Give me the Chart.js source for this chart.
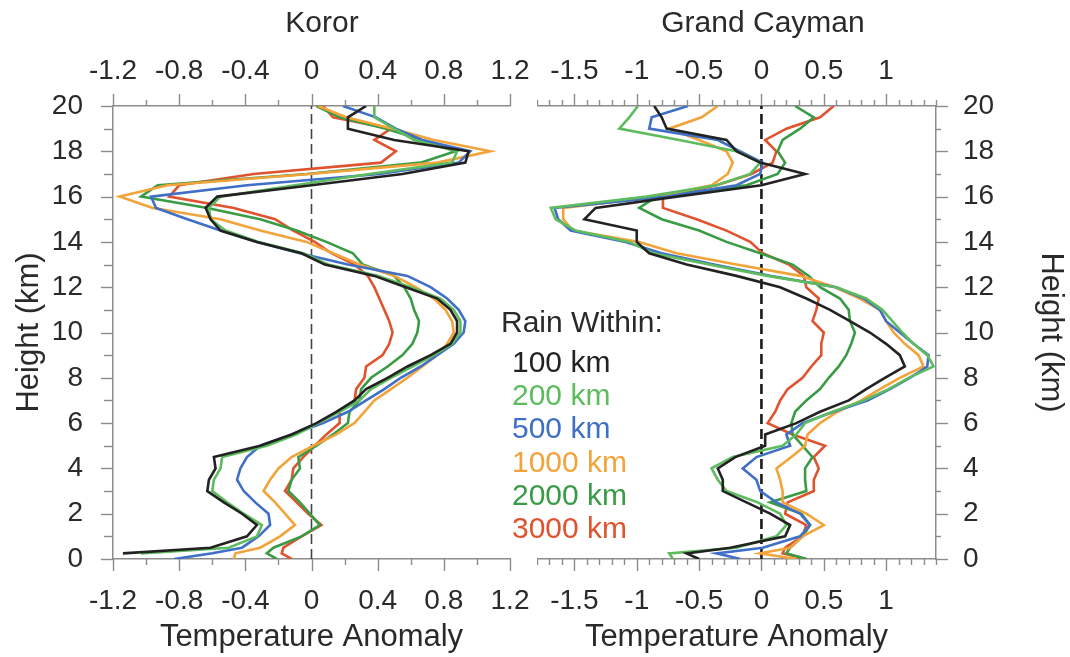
<!DOCTYPE html>
<html>
<head>
<meta charset="utf-8">
<title>Temperature anomaly profiles</title>
<script src="https://cdn.jsdelivr.net/npm/chart.js@4.4.0/dist/chart.umd.min.js"></script>
<style>
  body { margin: 0; background: #fff; }
  #wrap { position: relative; width: 1070px; height: 657px; overflow: hidden;
          font-family: "Liberation Sans", Arial, Helvetica, sans-serif; color: #2a2a2a; }
  canvas { position: absolute; top: 0; }
  #kororChart { left: 0; }
  #caymanChart { left: 537px; }
  .txt { position: absolute; white-space: nowrap; line-height: 1; }
  .panel-title { font-size: 30px; transform: translateX(-50%); top: 7px; }
  .leg { font-size: 30px; }
</style>
</head>
<body>
<div id="wrap">
  <canvas id="kororChart" width="537" height="657"></canvas>
  <canvas id="caymanChart" width="533" height="657"></canvas>
  <div class="txt panel-title" style="left:322px">Koror</div>
  <div class="txt panel-title" style="left:763px">Grand Cayman</div>
  <div id="legend"></div>
</div>
<script>
// heights (km) shared by every profile
const heights = [0, 0.25, 0.5, 1, 1.5, 2, 2.5, 3, 3.5, 4, 4.5, 5, 5.5, 6, 6.5, 7, 7.5, 8, 8.5, 9, 9.5,
  10, 10.5, 11, 11.5, 12, 12.5, 13, 13.5, 14, 14.5, 15, 15.5, 16, 16.5, 17, 17.5, 18, 18.5, 19, 19.5, 20];

const seriesNames = ['100 km', '200 km', '500 km', '1000 km', '2000 km', '3000 km'];

// Koror temperature anomaly, one value per height
const koror100 = [null, -1.14, -0.61, -0.39, -0.33, -0.42, -0.53, -0.63, -0.62, -0.58, -0.59, -0.31, -0.12, 0.03,
  0.15, 0.26, 0.33, 0.46, 0.58, 0.72, 0.84, 0.88, 0.88, 0.84, 0.76, 0.57, 0.38, 0.08, -0.06, -0.33, -0.55, -0.61,
  -0.64, -0.57, 0.00, 0.55, 0.93, 0.95, 0.50, 0.22, 0.22, 0.33];
const koror200 = [null, -1.03, -0.50, -0.33, -0.30, -0.41, -0.51, -0.60, -0.59, -0.55, -0.54, -0.27, -0.09, 0.04,
  0.17, 0.29, 0.36, 0.48, 0.61, 0.74, 0.85, 0.90, 0.90, 0.86, 0.78, 0.60, 0.40, 0.10, -0.05, -0.32, -0.52, -0.61,
  -0.62, -0.55, -0.10, 0.35, 0.85, 0.88, 0.62, 0.50, 0.38, 0.38];
const koror500 = [-0.83, -0.60, -0.42, -0.32, -0.25, -0.26, -0.34, -0.41, -0.45, -0.43, -0.39, -0.31, -0.12, 0.07,
  0.22, 0.33, 0.44, 0.54, 0.66, 0.76, 0.86, 0.92, 0.93, 0.89, 0.82, 0.72, 0.58, 0.22, -0.07, -0.33, -0.55, -0.75,
  -0.94, -0.97, -0.39, 0.41, 0.89, 0.96, 0.67, 0.51, 0.39, 0.19];
const koror1000 = [-0.47, -0.46, -0.31, -0.19, -0.10, -0.16, -0.22, -0.29, -0.25, -0.20, -0.12, 0.01, 0.15, 0.26,
  0.32, 0.38, 0.48, 0.58, 0.67, 0.76, 0.82, 0.86, 0.85, 0.81, 0.74, 0.63, 0.50, 0.29, 0.13, -0.03, -0.31, -0.55,
  -0.96, -1.16, -0.87, -0.01, 0.76, 1.08, 0.74, 0.49, 0.21, 0.04];
const koror2000 = [-0.21, -0.27, -0.23, -0.06, 0.05, -0.01, -0.07, -0.14, -0.12, -0.07, -0.08, 0.03, 0.13, 0.22,
  0.23, 0.29, 0.30, 0.36, 0.46, 0.55, 0.61, 0.64, 0.65, 0.62, 0.60, 0.56, 0.50, 0.31, 0.25, 0.09, -0.09, -0.31,
  -0.63, -1.03, -0.93, -0.03, 0.66, 0.87, 0.67, 0.45, 0.17, 0.03];
const koror3000 = [-0.12, -0.18, -0.17, -0.06, 0.06, -0.02, -0.09, -0.16, -0.12, -0.11, -0.05, 0.02, 0.09, 0.17,
  0.17, 0.26, 0.27, 0.32, 0.33, 0.43, 0.47, 0.49, 0.47, 0.44, 0.41, 0.38, 0.34, 0.26, 0.12, 0.02, -0.11, -0.22,
  -0.47, -0.86, -0.80, -0.35, 0.42, 0.51, 0.38, 0.48, 0.13, 0.07];

// Grand Cayman temperature anomaly
const cayman100 = [-0.50, -0.60, -0.25, 0.19, 0.23, 0.07, -0.12, -0.31, -0.31, -0.35, -0.21, 0.03, 0.03, 0.28,
  0.47, 0.70, 0.84, 0.99, 1.15, 1.11, 1.00, 0.87, 0.71, 0.55, 0.36, 0.15, -0.20, -0.60, -0.90, -1.00, -1.00, -1.42,
  -1.33, -0.68, 0.00, 0.35, -0.01, -0.20, -0.28, -0.76, -0.80, -0.86];
const cayman200 = [-0.71, -0.74, -0.20, 0.12, 0.20, 0.15, -0.03, -0.28, -0.35, -0.40, -0.23, 0.17, 0.28, 0.35,
  0.57, 0.82, 1.02, 1.18, 1.38, 1.33, 1.22, 1.13, 1.05, 0.97, 0.84, 0.60, 0.05, -0.42, -0.87, -1.06, -1.49, -1.65,
  -1.69, -0.92, -0.36, -0.09, -0.01, -0.20, -0.66, -1.14, -1.06, -0.99];
const cayman500 = [-0.17, -0.36, 0.01, 0.31, 0.39, 0.31, 0.12, -0.01, -0.04, -0.15, -0.04, 0.23, 0.20, 0.33,
  0.58, 0.85, 1.03, 1.19, 1.33, 1.34, 1.22, 1.11, 1.00, 0.95, 0.82, 0.60, 0.07, -0.38, -0.80, -1.09, -1.53, -1.63,
  -1.66, -0.76, -0.20, -0.01, 0.01, -0.17, -0.35, -0.90, -0.88, -0.59];
const cayman1000 = [0.28, -0.01, 0.23, 0.33, 0.50, 0.36, 0.17, 0.17, 0.15, 0.12, 0.24, 0.35, 0.37, 0.47,
  0.61, 0.80, 0.95, 1.11, 1.30, 1.26, 1.15, 1.06, 1.00, 0.95, 0.79, 0.59, 0.31, -0.20, -0.68, -0.98, -1.51, -1.59,
  -1.59, -0.84, -0.40, -0.27, -0.23, -0.28, -0.50, -0.74, -0.48, -0.35];
const cayman2000 = [0.36, 0.20, 0.23, 0.33, 0.39, 0.32, 0.07, 0.36, 0.35, 0.35, 0.41, 0.33, 0.25, 0.24,
  0.27, 0.36, 0.47, 0.54, 0.62, 0.68, 0.72, 0.75, 0.71, 0.70, 0.63, 0.47, 0.38, 0.25, -0.01, -0.28, -0.50, -0.80,
  -0.98, -0.84, -0.12, 0.13, 0.19, 0.13, 0.17, 0.31, 0.42, 0.27];
const cayman3000 = [0.36, 0.17, 0.19, 0.33, 0.36, 0.19, 0.21, 0.42, 0.42, 0.46, 0.42, 0.51, 0.25, 0.05,
  0.11, 0.15, 0.21, 0.33, 0.40, 0.48, 0.48, 0.50, 0.41, 0.44, 0.46, 0.36, 0.34, 0.22, 0.01, -0.09, -0.28, -0.52,
  -0.79, -0.79, -0.36, -0.08, 0.09, 0.12, 0.03, 0.20, 0.47, 0.58];

// tick labels that are printed (other ticks are unlabelled minor ticks)
const kororTickLabels = ['-1.2', '-0.8', '-0.4', '0', '0.4', '0.8', '1.2'];
const caymanTickLabels = ['-1.5', '-1', '-0.5', '0', '0.5', '1'];
const heightTickLabels = ['0', '2', '4', '6', '8', '10', '12', '14', '16', '18', '20'];

const seriesColors = ['#222222', '#5ebc5e', '#3f6fc6', '#f2a33a', '#3a9b45', '#e0532f'];
const axisGrey = '#8c8c8c';
const textColor = '#2a2a2a';
const fontFamily = '"Liberation Sans", Arial, Helvetica, sans-serif';

function profile(values) {
  return heights.map((h, i) => ({ x: values[i], y: h })).filter(p => p.x !== null);
}

function tickText(labels) {
  return (value) => {
    const s = String(Math.round(value * 10) / 10);
    return labels.includes(s) ? s : '';
  };
}

// outward tick marks, long where a label is printed, short otherwise
const tickMarks = {
  id: 'tickMarks',
  afterDraw(chart, args, opts) {
    const ctx = chart.ctx;
    ctx.save();
    ctx.strokeStyle = axisGrey;
    ctx.lineWidth = 1.4;
    Object.values(chart.scales).forEach(sc => {
      const horiz = sc.isHorizontal();
      sc.ticks.forEach(t => {
        const len = t.label ? opts.major : (horiz ? opts.minorX : opts.minorY);
        const p = Math.round(sc.getPixelForValue(t.value)) + 0.5;
        ctx.beginPath();
        if (sc.position === 'top') { ctx.moveTo(p, sc.bottom); ctx.lineTo(p, sc.bottom - len); }
        else if (sc.position === 'bottom') { ctx.moveTo(p, sc.top); ctx.lineTo(p, sc.top + len); }
        else if (sc.position === 'left') { ctx.moveTo(sc.right, p); ctx.lineTo(sc.right - len, p); }
        else { ctx.moveTo(sc.left, p); ctx.lineTo(sc.left + len, p); }
        ctx.stroke();
      });
    });
    ctx.restore();
  }
};

function xScale(position, min, max, step, labels, pad, height, extra) {
  return Object.assign({
    type: 'linear', position, min, max,
    // fixed box size, and no extra room reserved for the end labels
    afterFit: s => { s.height = height; s.paddingLeft = 0; s.paddingRight = 0; },
    grid: { display: false, drawTicks: false },
    border: { display: true, color: axisGrey, width: 1.5 },
    ticks: {
      stepSize: step, autoSkip: false, maxRotation: 0, padding: pad,
      color: textColor, font: { family: fontFamily, size: 28 },
      callback: tickText(labels)
    }
  }, extra);
}

function yScale(position, width, pad, titlePad) {
  return {
    type: 'linear', position, min: 0, max: 20,
    afterFit: s => { s.width = width; s.paddingTop = 0; s.paddingBottom = 0; },
    grid: { display: false, drawTicks: false },
    border: { display: true, color: axisGrey, width: 1.5 },
    ticks: {
      stepSize: 1, autoSkip: false, padding: pad,
      color: textColor, font: { family: fontFamily, size: 28 },
      callback: tickText(heightTickLabels)
    },
    title: {
      display: true, text: 'Height (km)', color: textColor,
      font: { family: fontFamily, size: 31 }, padding: { top: titlePad, bottom: 0 }
    }
  };
}

function buildChart(canvasId, series, range, labels, yPos, yWidth, yPad, yTitlePad, padding, dash, minorY) {
  const datasets = series.map((vals, i) => ({
    label: seriesNames[i],
    data: profile(vals),
    borderColor: seriesColors[i],
    borderWidth: 2.6,
    pointRadius: 0,
    tension: 0,
    fill: false
  }));
  // dashed zero line
  datasets.push({
    label: 'zero',
    data: [{ x: 0, y: 0 }, { x: 0, y: 20 }],
    borderColor: dash.color,
    borderWidth: dash.width,
    borderDash: [10, 5],
    pointRadius: 0,
    fill: false
  });

  new Chart(document.getElementById(canvasId), {
    type: 'line',
    data: { datasets },
    plugins: [tickMarks],
    options: {
      responsive: false,
      animation: false,
      devicePixelRatio: 1,
      layout: { padding },
      plugins: {
        legend: { display: false },
        tooltip: { enabled: false },
        tickMarks: { major: 12, minorX: 6, minorY: minorY }
      },
      scales: {
        x: xScale('bottom', range[0], range[1], range[2], labels, 25, 98, {
          title: {
            display: true, text: 'Temperature Anomaly', color: textColor,
            font: { family: fontFamily, size: 31 }, padding: { top: 0, bottom: 1 }
          }
        }),
        xTop: xScale('top', range[0], range[1], range[2], labels, 18, 106, {}),
        y: yScale(yPos, yWidth, yPad, yTitlePad)
      }
    }
  });
}

buildChart('kororChart', [koror100, koror200, koror500, koror1000, koror2000, koror3000],
  [-1.2, 1.2, 0.2], kororTickLabels, 'left', 113, 30, 11,
  { left: 0, right: 27, top: 0, bottom: 0 }, { color: '#444', width: 1.6 }, 9);

buildChart('caymanChart', [cayman100, cayman200, cayman500, cayman1000, cayman2000, cayman3000],
  [-1.8, 1.4, 0.1], caymanTickLabels, 'right', 134, 27, 1,
  { left: 0, right: 0, top: 0, bottom: 0 }, { color: '#1a1a1a', width: 2.6 }, 5);

// legend text
const legend = document.getElementById('legend');
const head = document.createElement('div');
head.className = 'txt leg';
head.style.left = '501px';
head.style.top = '307px';
head.textContent = 'Rain Within:';
legend.appendChild(head);
seriesNames.forEach((name, i) => {
  const d = document.createElement('div');
  d.className = 'txt leg';
  d.style.left = '512px';
  d.style.top = (347 + i * 33.2) + 'px';
  d.style.color = seriesColors[i];
  d.textContent = name;
  legend.appendChild(d);
});
</script>
</body>
</html>
